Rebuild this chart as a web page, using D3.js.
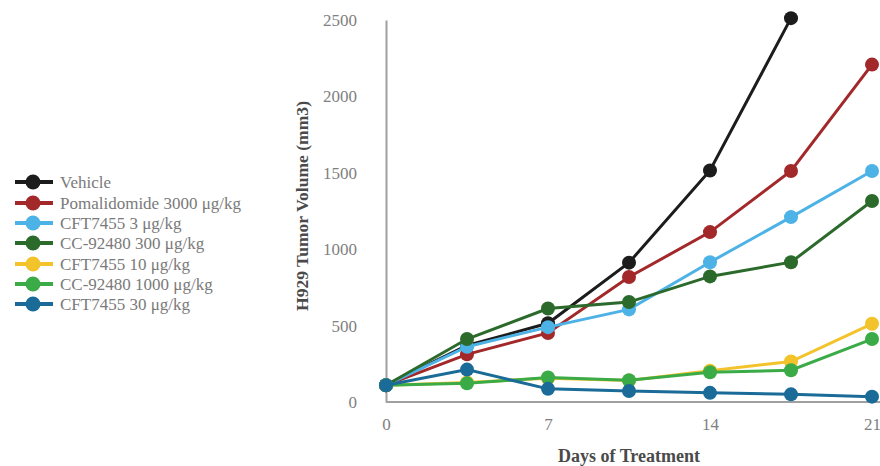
<!DOCTYPE html>
<style>
body { margin: 0; background: #fff; }
text { font-family: "Liberation Serif", "DejaVu Serif", serif; }
</style>
<svg width="880" height="466"></svg>
<script src="https://d3js.org/d3.v7.min.js"></script>
<script>

var days = [0, 3.5, 7, 10.5, 14, 17.5, 21];
var xTicks = [0, 7, 14, 21];
var yTicks = [0, 500, 1000, 1500, 2000, 2500];

var seriesNames = ["Vehicle", "Pomalidomide 3000 μg/kg", "CFT7455 3 μg/kg", "CC-92480 300 μg/kg",
                   "CFT7455 10 μg/kg", "CC-92480 1000 μg/kg", "CFT7455 30 μg/kg"];
var vehicle      = [110, 370, 515, 912, 1515, 2512];
var pomalidomide = [110, 312, 452, 818, 1112, 1512, 2208];
var cft3         = [110, 362, 490, 606, 915, 1210, 1512];
var cc300        = [110, 412, 612, 654, 822, 915, 1315];
var cft10        = [110, 128, 155, 140, 205, 265, 512];
var cc1000       = [110, 122, 160, 142, 195, 208, 412];
var cft30        = [110, 212, 86, 72, 60, 50, 35];
var colors = ["#1c1c1c", "#a3282a", "#4db2e6", "#2c6a2c", "#f3c32b", "#3bab47", "#1a6b98"];

var allValues = [vehicle, pomalidomide, cft3, cc300, cft10, cc1000, cft30];

var svg = d3.select("svg"),
    margin = {top: 20, right: 0, bottom: 64, left: 386},
    width = +svg.attr("width") - margin.left - margin.right,
    height = +svg.attr("height") - margin.top - margin.bottom,
    g = svg.append("g").attr("transform", "translate(" + margin.left + "," + margin.top + ")");

var x = d3.scaleLinear().domain([0, 21]).range([0, 486]);
var y = d3.scaleLinear().domain([0, 2500]).range([height, 0]);

// axes
var yAxis = g.append("g")
    .call(d3.axisLeft(y).tickValues(yTicks).tickSize(0).tickPadding(29).tickFormat(d3.format("d")));
yAxis.select(".domain").attr("stroke", "#a0a0a0").attr("stroke-width", 2);
yAxis.selectAll("text").attr("fill", "#808080").style("font-size", "17px");

var xAxis = g.append("g")
    .attr("transform", "translate(0," + height + ")")
    .call(d3.axisBottom(x).tickValues(xTicks).tickSize(0).tickPadding(16).tickFormat(d3.format("d")));
xAxis.select(".domain").attr("stroke", "#a0a0a0").attr("stroke-width", 2)
    .attr("d", "M0,0H" + width);
xAxis.selectAll("text").attr("fill", "#808080").style("font-size", "17px");

// titles
g.append("text")
    .attr("transform", "translate(-84," + (height / 2 - 5) + ") rotate(-90)")
    .attr("text-anchor", "middle")
    .attr("dy", "0.35em")
    .attr("font-weight", "bold")
    .attr("fill", "#4a4a4a")
    .attr("textLength", 210)
    .attr("lengthAdjust", "spacingAndGlyphs")
    .style("font-size", "16px")
    .text("H929 Tumor Volume (mm3)");

g.append("text")
    .attr("x", x(10.5))
    .attr("y", height + 60)
    .attr("text-anchor", "middle")
    .attr("font-weight", "bold")
    .attr("fill", "#4a4a4a")
    .style("font-size", "18px")
    .text("Days of Treatment");

// lines
var line = d3.line()
    .x(function(d, i) { return x(days[i]); })
    .y(function(d) { return y(d); });

var series = g.append("g")
  .selectAll("g")
  .data(allValues)
  .enter().append("g");

series.append("path")
    .attr("fill", "none")
    .attr("stroke", function(d, i) { return colors[i]; })
    .attr("stroke-width", 3)
    .attr("d", line);

series.each(function(vals, si) {
  d3.select(this).selectAll("circle")
    .data(vals)
    .enter().append("circle")
      .attr("cx", function(d, i) { return x(days[i]); })
      .attr("cy", function(d) { return y(d); })
      .attr("r", 7)
      .attr("fill", colors[si]);
});

// legend
var legendY = [182, 203, 223, 243, 264, 284, 304];

var legend = svg.append("g")
  .selectAll("g")
  .data(seriesNames)
  .enter().append("g")
    .attr("transform", function(d, i) { return "translate(15," + legendY[i] + ")"; });

legend.append("line")
    .attr("x1", 0).attr("x2", 38)
    .attr("stroke", function(d, i) { return colors[i]; })
    .attr("stroke-width", 4);

legend.append("circle")
    .attr("cx", 18).attr("r", 7.5)
    .attr("fill", function(d, i) { return colors[i]; });

legend.append("text")
    .attr("x", 45)
    .attr("dy", "0.35em")
    .attr("fill", "#7a7a7a")
    .style("font-size", "17px")
    .text(function(d) { return d; });

</script>
